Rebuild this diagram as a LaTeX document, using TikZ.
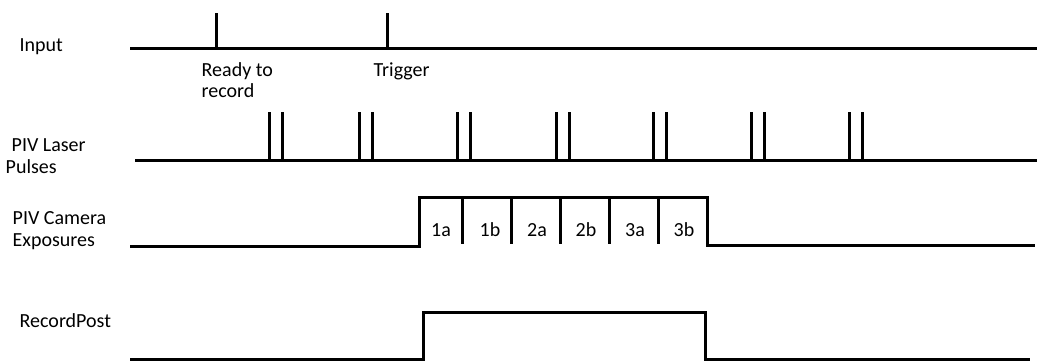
\documentclass[tikz,border=0pt]{standalone}
\usepackage{fontspec}
\setmainfont{Carlito}
\begin{document}
\begin{tikzpicture}[x=1pt,y=-1pt,
  sig/.style={line width=3pt, line cap=butt, line join=miter},
  txt/.style={inner sep=0pt, font=\fontsize{20}{21.5}\selectfont},
  lbl/.style={txt, anchor=base west, align=left},
  seg/.style={txt, anchor=base}]
\useasboundingbox (0,0) rectangle (1037,361);

% signal names (multi-line nodes sit on the baseline of their last line)
\node[lbl] (nInput)  at (19.5,52)  {Input};
\node[lbl] (nLaser)  at (5.5,173)  {\hspace*{6pt}PIV Laser\\Pulses};
\node[lbl] (nCamera) at (12.5,246) {PIV Camera\\Exposures};
\node[lbl] (nRecord) at (19.5,327) {RecordPost};

% input line with its two pulses
\draw[sig] (130,49) -- (1037,49);
\draw[sig] (216,49) -- (216,13);
\draw[sig] (387,49) -- (387,13);
\node[lbl] (nReady)   at (201.5,98) {Ready to\\record};
\node[lbl] (nTrigger) at (373.5,77) {Trigger};

% laser: double pulses
\draw[sig] (135,160) -- (1037,160);
\foreach \x in {269,359,457,556,653,751,849}{
  \draw[sig] (\x,160) -- (\x,112);
  \draw[sig] (\x+13,160) -- (\x+13,112);
}

% camera exposures
\draw[sig] (130,246) -- (419,246) -- (419,197) -- (707,197) -- (707,245) -- (1035,245);
\foreach \x in {462,511,560,609,658}{
  \draw[sig] (\x,197) -- (\x,244);
}
\foreach \x/\t in {441/1a,490/1b,537/2a,586/2b,635/3a,684/3b}{
  \node[seg] (e\t) at (\x,236) {\t};
}

% record post
\draw[sig] (130,359) -- (423,359) -- (423,312) -- (705,312) -- (705,359) -- (1030,359);
\end{tikzpicture}
\end{document}
